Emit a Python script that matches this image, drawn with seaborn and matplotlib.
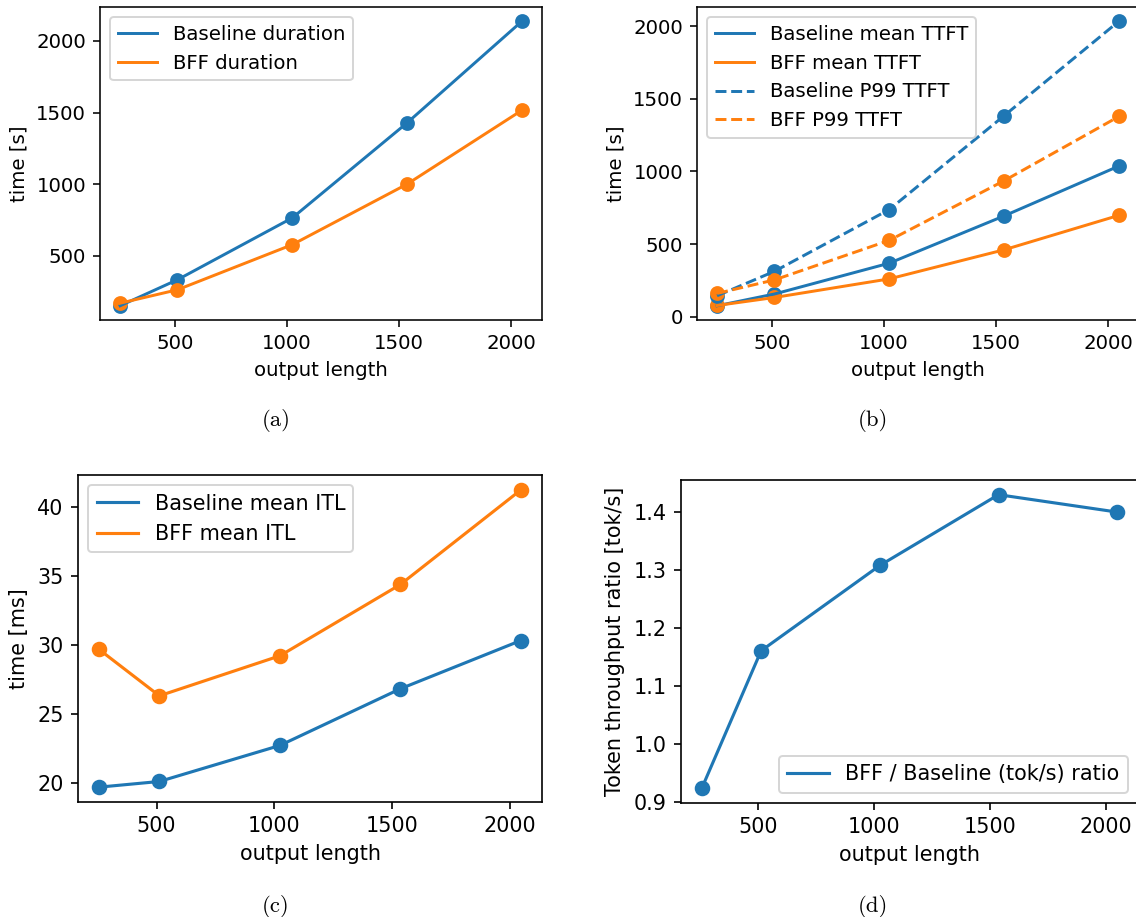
import matplotlib
matplotlib.use("Agg")
import matplotlib.pyplot as plt
import seaborn as sns
import pandas as pd

# ---- data ----
output_length = [256, 512, 1024, 1536, 2048]

baseline_duration = [150, 332, 764, 1428, 2138]
bff_duration = [168, 262, 577, 1000, 1516]

baseline_mean_ttft = [76, 157, 369, 694, 1037]
bff_mean_ttft = [78, 133, 261, 461, 698]
baseline_p99_ttft = [145, 313, 738, 1383, 2033]
bff_p99_ttft = [161, 254, 526, 936, 1378]

baseline_mean_itl = [19.71, 20.12, 22.73, 26.84, 30.34]
bff_mean_itl = [29.69, 26.33, 29.23, 34.40, 41.26]

throughput_ratio = [0.924, 1.161, 1.308, 1.430, 1.400]

captions = ["(a)", "(b)", "(c)", "(d)"]

BLUE = "#1f77b4"
ORANGE = "#ff7f0e"

W, H = 1136, 917
DPI = 142
fig = plt.figure(figsize=(W / DPI, H / DPI), dpi=DPI)


def px_axes(left, top, width, height):
    return fig.add_axes([left / W, 1 - (top + height) / H, width / W, height / H])


def series(ax, y, color, label, ls="-", k=1.0):
    df = pd.DataFrame({"x": output_length, "y": y})
    sns.lineplot(data=df, x="x", y="y", ax=ax, color=color, label=label,
                 linestyle=ls, linewidth=1.5 * k, errorbar=None)
    sns.scatterplot(data=df, x="x", y="y", ax=ax, color=color, s=36 * k * k,
                    edgecolor=color, linewidth=1.5 * k, legend=False)


def scaled_rc(k):
    return {
        "font.size": 10 * k,
        "axes.linewidth": 0.8 * k,
        "xtick.major.size": 3.5 * k,
        "ytick.major.size": 3.5 * k,
        "xtick.major.width": 0.8 * k,
        "ytick.major.width": 0.8 * k,
        "xtick.major.pad": 3.5 * k,
        "ytick.major.pad": 3.5 * k,
        "lines.dashed_pattern": (3.7, 1.6),
    }


# ---- top row ----
with plt.rc_context(scaled_rc(1.0)):
    ax_a = px_axes(100, 7, 442, 313)
    series(ax_a, baseline_duration, BLUE, "Baseline duration")
    series(ax_a, bff_duration, ORANGE, "BFF duration")
    ax_a.set_xlabel("output length")
    ax_a.set_ylabel("time [s]")
    ax_a.legend(loc="upper left")

    ax_b = px_axes(697, 7, 442, 313)
    series(ax_b, baseline_mean_ttft, BLUE, "Baseline mean TTFT")
    series(ax_b, bff_mean_ttft, ORANGE, "BFF mean TTFT")
    series(ax_b, baseline_p99_ttft, BLUE, "Baseline P99 TTFT", ls="--")
    series(ax_b, bff_p99_ttft, ORANGE, "BFF P99 TTFT", ls="--")
    ax_b.set_xlabel("output length")
    ax_b.set_ylabel("time [s]")
    ax_b.legend(loc="upper left")

# ---- bottom row (slightly larger scale) ----
KB = 1.05
with plt.rc_context(scaled_rc(KB)):
    ax_c = px_axes(78, 475, 464, 327)
    series(ax_c, baseline_mean_itl, BLUE, "Baseline mean ITL", k=KB)
    series(ax_c, bff_mean_itl, ORANGE, "BFF mean ITL", k=KB)
    ax_c.set_xlabel("output length")
    ax_c.set_ylabel("time [ms]")
    ax_c.legend(loc="upper left")

    ax_d = px_axes(681, 480, 457, 323)
    series(ax_d, throughput_ratio, BLUE, "BFF / Baseline (tok/s) ratio", k=KB)
    ax_d.set_xlabel("output length")
    ax_d.set_ylabel("Token throughput ratio [tok/s]")
    ax_d.legend(loc="lower right")

cap_pos = [(276, 420), (873, 420), (276, 906), (873, 906)]
for cap, (cx, cy) in zip(captions, cap_pos):
    fig.text(cx / W, 1 - cy / H, cap, ha="center", va="center",
             fontfamily="cmr10", fontsize=11.5)

fig.savefig("out.png", dpi=DPI)
